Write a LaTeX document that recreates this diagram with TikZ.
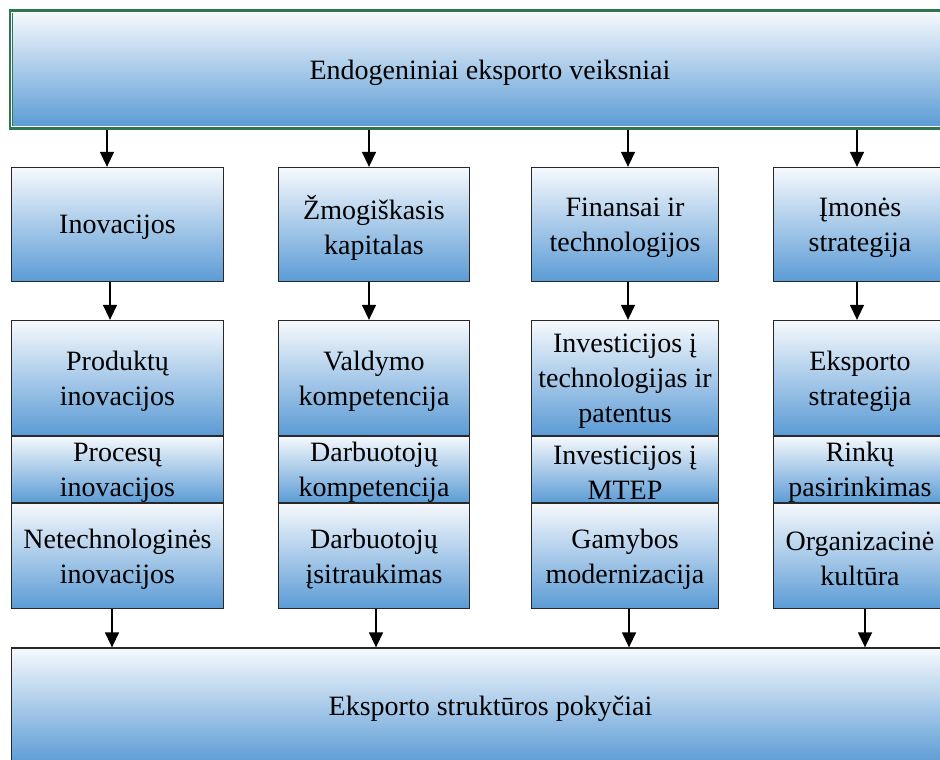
\documentclass[tikz,border=0pt]{standalone}
\usepackage{fontspec}
\setmainfont{Liberation Serif}
\usetikzlibrary{arrows.meta}
\definecolor{gtop}{RGB}{246,249,253}
\definecolor{gbot}{RGB}{91,155,213}
\definecolor{frame}{RGB}{46,117,80}
\definecolor{edge}{RGB}{40,40,40}
\tikzset{
 box/.style={draw=edge, line width=1.3pt, top color=gtop, bottom color=gbot, inner sep=0pt},
 txt/.style={inner sep=0pt, align=center, font=\fontsize{28}{35}\selectfont},
 arr/.style={draw=black, line width=1.4pt, -{Triangle[width=14pt,length=15pt]}},
}
\newcommand\bx[5]{%
  \node[box, minimum width=#2, minimum height=#3] (#1) at (#4) {};
  \node[txt] (#1t) at ([yshift=-3pt]#1.center) {#5};}
\begin{document}
\begin{tikzpicture}[x=1pt,y=-1pt]
\useasboundingbox (0,0) rectangle (940,760);
\clip (0,0) rectangle (940,760);
% top box
\node[box, draw=frame, line width=4pt, minimum width=958pt, minimum height=116pt] (top) at (490,69.5) {};
\draw[white, line width=1pt] ([shift={(2.8pt,-2.8pt)}]top.north west) rectangle ([shift={(-2.8pt,2.8pt)}]top.south east);
\node[txt] (topt) at ([yshift=-3pt]top.center) {Endogeniniai eksporto veiksniai};
% row 1
\bx{r1c1}{212pt}{114pt}{117.5,224.5}{Inovacijos}
\bx{r1c2}{191pt}{114pt}{374,224.5}{Žmogiškasis\\kapitalas}
\bx{r1c3}{187pt}{114pt}{625,224.5}{Finansai ir\\technologijos}
\bx{r1c4}{173pt}{114pt}{860,224.5}{Įmonės\\strategija}
% column 1
\bx{a1}{212pt}{115pt}{117.5,378}{Produktų\\inovacijos}
\bx{b1}{212pt}{67pt}{117.5,469.5}{Procesų\\inovacijos}
\bx{c1}{212pt}{105pt}{117.5,556}{Netechnologinės\\inovacijos}
% column 2
\bx{a2}{191pt}{115pt}{374,378}{Valdymo\\kompetencija}
\bx{b2}{191pt}{67pt}{374,469.5}{Darbuotojų\\kompetencija}
\bx{c2}{191pt}{105pt}{374,556}{Darbuotojų\\įsitraukimas}
% column 3
\bx{a3}{187pt}{115pt}{625,378}{Investicijos į\\technologijas ir\\patentus}
\bx{b3}{187pt}{67pt}{625,469.5}{Investicijos į\\MTEP}
\bx{c3}{187pt}{105pt}{625,556}{Gamybos\\modernizacija}
% column 4
\bx{a4}{173pt}{115pt}{860,378}{Eksporto\\strategija}
\bx{b4}{173pt}{67pt}{860,469.5}{Rinkų\\pasirinkimas}
\bx{c4}{173pt}{105pt}{860,556}{Organizacinė\\kultūra}
% bottom box
\bx{bot}{958pt}{116pt}{490.5,706}{Eksporto struktūros pokyčiai}
% arrow columns
\coordinate (t1) at (107,0); \coordinate (t2) at (369,0); \coordinate (t3) at (628,0); \coordinate (t4) at (857,0);
\coordinate (m1) at (110,0); \coordinate (m2) at (369,0); \coordinate (m3) at (628,0); \coordinate (m4) at (857,0);
\coordinate (l1) at (112,0); \coordinate (l2) at (376,0); \coordinate (l3) at (629,0); \coordinate (l4) at (865,0);
\foreach \i in {1,2,3,4}{
  \draw[arr] (top.south -| t\i) -- (r1c\i.north -| t\i);
  \draw[arr] (r1c\i.south -| m\i) -- (a\i.north -| m\i);
  \draw[arr] (c\i.south -| l\i) -- (bot.north -| l\i);
}
\end{tikzpicture}
\end{document}
